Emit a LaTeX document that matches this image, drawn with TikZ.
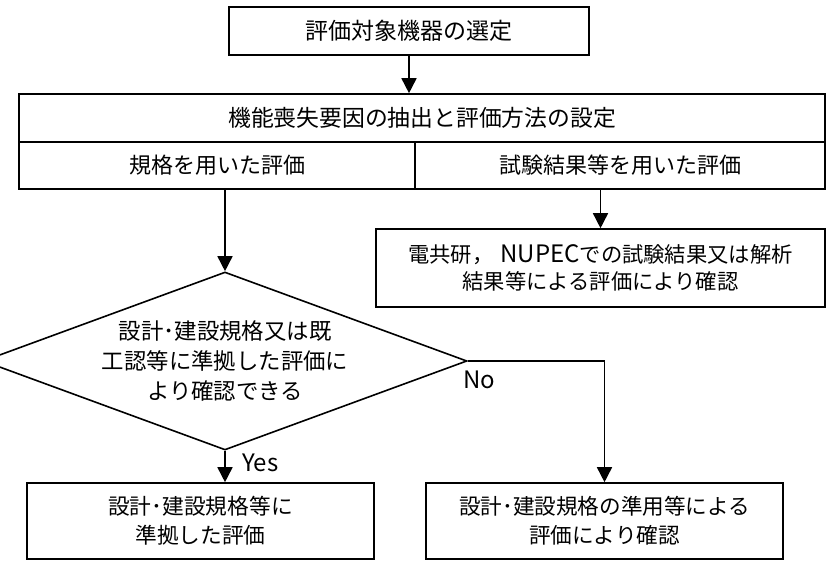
\documentclass[tikz,border=0pt]{standalone}
\usepackage{fontspec}
\setmainfont{Noto Sans CJK JP}
\usetikzlibrary{shapes.geometric,arrows.meta}
\tikzset{
  bx/.style={draw=black, line width=1.6pt, inner sep=0pt, align=center, font=\fontsize{22}{29}\selectfont},
  dia/.style={draw=black, diamond, line width=1.6pt, aspect=2.72, inner sep=0pt, align=center, font=\fontsize{22.4}{30}\selectfont},
  arr/.style={line width=1.6pt, -{Triangle[width=15pt,length=15pt]}},
  lbl/.style={font=\fontsize{24}{28}\selectfont, inner sep=0pt},
}
\begin{document}
\begin{tikzpicture}[x=1pt,y=-1pt]
\useasboundingbox (0,0) rectangle (826,561);
\clip (0,0) rectangle (826,561);
\node[bx, minimum width=360pt, minimum height=48pt, font=\fontsize{23}{29}\selectfont] (top) at (409,31) {評価対象機器の選定};
\node[bx, minimum width=806pt, minimum height=48pt, font=\fontsize{22.8}{29}\selectfont] (main) at (422,118) {機能喪失要因の抽出と評価方法の設定};
\node[bx, minimum width=396pt, minimum height=47pt] (left) at (217,165.5) {規格を用いた評価};
\node[bx, minimum width=410pt, minimum height=47pt] (right) at (620,165.5) {試験結果等を用いた評価};
\node[bx, minimum width=449pt, minimum height=78pt, font=\fontsize{21.3}{27}\selectfont] (test) at (600.5,268) {電共研，\hspace{7pt}{\fontsize{24}{27}\selectfont NUPEC}での試験結果又は解析\\結果等による評価により確認};
\node[dia, minimum width=484pt, minimum height=178pt] (dec) at (225,361) {設計･建設規格又は既\\工認等に準拠した評価に\\より確認できる};
\node[bx, minimum width=347pt, minimum height=76pt, font=\fontsize{21.7}{29}\selectfont] (yes) at (200.5,521) {設計･建設規格等に\\準拠した評価};
\node[bx, minimum width=357pt, minimum height=76pt, font=\fontsize{21.6}{29}\selectfont] (no) at (604.5,521) {設計･建設規格の準用等による\\評価により確認};
\draw[arr] (top.south) -- (top.south |- main.north);
\draw[arr] (dec.north |- left.south) -- (dec.north);
\draw[arr] (test.north |- right.south) -- (test.north);
\draw[arr] (dec.south) -- (dec.south |- yes.north);
\draw[arr] (dec.east) -| (no.north);
\node[lbl, anchor=west] (nolab) at (463,380) {No};
\node[lbl, anchor=west] (yeslab) at (242,463) {Yes};
\end{tikzpicture}
\end{document}
